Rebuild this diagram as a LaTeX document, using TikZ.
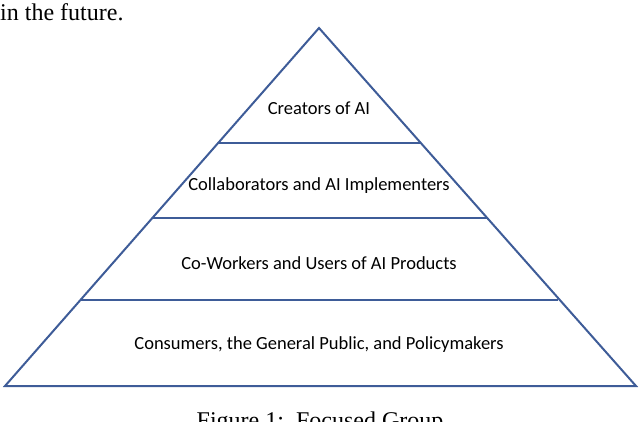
\documentclass[tikz,border=0pt]{standalone}
\usepackage{fontspec}
\setmainfont{Carlito}
\newfontfamily\serifft{Liberation Serif}
\definecolor{pyr}{HTML}{3E5C98}
\begin{document}
\begin{tikzpicture}[x=1pt,y=-1pt,
  edge/.style={draw=pyr, line width=2pt, line join=miter},
  lbl/.style={font=\fontsize{18.5}{21}\selectfont, text=black}]
\useasboundingbox (0,0) rectangle (640,421);
\coordinate (apex) at (319,28);
\coordinate (bl) at (5,386);
\coordinate (br) at (636,386);
\draw[edge] (apex) -- (bl) -- (br) -- cycle;
\draw[edge] (219,143) -- (420,143);
\draw[edge] (152,218) -- (487,218);
\draw[edge] (81,300) -- (558,300);
\node[lbl] (l1) at (319,108) {Creators of AI};
\node[lbl] (l2) at (319,186) {Collaborators and AI Implementers};
\node[lbl] (l3) at (319,263) {Co-Workers and Users of AI Products};
\node[lbl] (l4) at (319,345) {Consumers, the General Public, and Policymakers};
\node[anchor=base west, inner sep=0, font=\serifft\fontsize{24}{28}\selectfont] (top) at (0,20) {in the future.};
\node[anchor=base, inner sep=0, font=\serifft\fontsize{24}{28}\selectfont] (cap) at (320,428) {Figure 1:\ \ Focused Group};
\end{tikzpicture}
\end{document}
